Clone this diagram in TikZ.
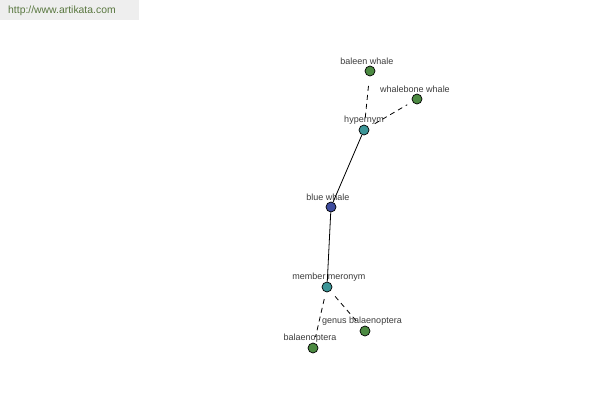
\documentclass[tikz,border=0pt]{standalone}
\usepackage{fontspec}
\setmainfont{Liberation Sans}
\usepackage{tikz}
\definecolor{rootblue}{RGB}{62,76,158}
\definecolor{relteal}{RGB}{60,150,152}
\definecolor{leafgreen}{RGB}{76,138,66}
\definecolor{urlgreen}{RGB}{88,118,62}
\definecolor{bannergray}{RGB}{238,238,238}
\definecolor{labelgray}{RGB}{60,60,60}

\begin{document}
\begin{tikzpicture}[x=1pt, y=-1pt,
			dot/.style={circle, draw=black, line width=0.7pt, minimum size=10pt, inner sep=0pt},
			rootdot/.style={dot, fill=rootblue},
			reldot/.style={dot, fill=relteal},
			leafdot/.style={dot, fill=leafgreen},
			lbl/.style={font=\fontsize{9}{10}\selectfont, text=labelgray, inner sep=1pt, label distance=-0.5pt, xshift=-3pt},
			solidedge/.style={black, line width=0.8pt},
			dashededge/.style={black, line width=0.8pt, dash pattern=on 5pt off 4pt, shorten <=7pt, shorten >=6pt}]
			%Bildbereich
			\useasboundingbox (0,0) rectangle (600,400);
			\fill[white] (0,0) rectangle (600,400);
			%Banner
			\fill[bannergray] (0,0) rectangle (139,20);
			\node[anchor=west, text=urlgreen, font=\fontsize{10.4}{12}\selectfont, inner sep=0pt] (url) at (8,11) {http://www.artikata.com};
			%Knoten
			\node[rootdot, label={[lbl]above:blue whale}] (bluewhale) at (331,207) {};
			\node[reldot, label={[lbl, xshift=3pt]above:hypernym}] (hypernym) at (364,130) {};
			\node[reldot, label={[lbl, xshift=5pt]above:member meronym}] (meronym) at (327,287) {};
			\node[leafdot, label={[lbl]above:baleen whale}] (baleen) at (370,71) {};
			\node[leafdot, label={[lbl, xshift=1pt]above:whalebone whale}] (whalebone) at (417,99) {};
			\node[leafdot, label={[lbl]above:genus balaenoptera}] (genus) at (365,331) {};
			\node[leafdot, label={[lbl]above:balaenoptera}] (balaenoptera) at (313,348) {};
			%Kanten
			\draw[solidedge] (bluewhale) -- (hypernym);
			\draw[solidedge] (bluewhale) -- (meronym);
			\draw[dashededge] (hypernym) -- (baleen);
			\draw[dashededge] (hypernym) -- (whalebone);
			\draw[dashededge] (meronym) -- (genus);
			\draw[dashededge] (meronym) -- (balaenoptera);
		\end{tikzpicture}
\end{document}
